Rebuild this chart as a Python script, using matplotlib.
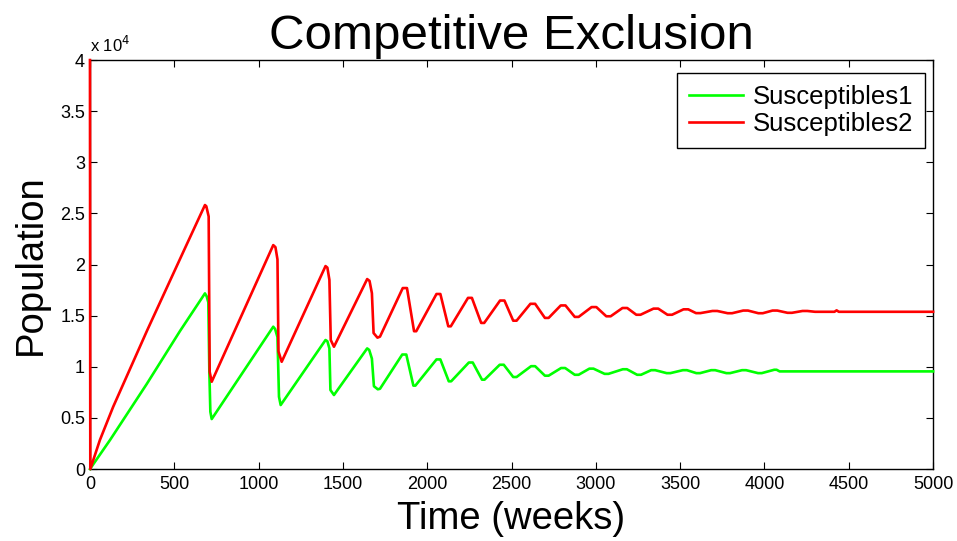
import numpy as np
import matplotlib.pyplot as plt
from matplotlib.ticker import FuncFormatter

plt.rcParams['font.family'] = ['Liberation Sans', 'DejaVu Sans']

# Susceptibles2 (red): points (weeks, population)
t2 = [0, 2, 59, 138, 340, 563, 682, 690, 704, 710, 722,
      1087, 1100, 1112, 1118, 1137,
      1397, 1408, 1420, 1428, 1447,
      1644, 1658, 1672, 1682, 1705, 1720,
      1855, 1880, 1922, 1935, 2055, 2078, 2125, 2140,
      2242, 2265, 2320, 2338, 2432, 2458, 2510, 2530,
      2612, 2640, 2698, 2720, 2792, 2820, 2875, 2898,
      2975, 3003, 3062, 3088, 3158, 3186, 3240, 3265,
      3342, 3370, 3425, 3452, 3520, 3548, 3594, 3620,
      3692, 3720, 3782, 3808, 3874, 3902, 3964, 3990,
      4048, 4076, 4137, 4163, 4226, 4254, 4300, 4415, 4428, 4441, 4460, 5000]
s2 = [40000, 0, 2840, 6100, 13590, 21580, 25820, 25700, 24700, 9500, 8540,
      21900, 21700, 20500, 11500, 10490,
      19850, 19700, 18500, 12620, 11960,
      18580, 18400, 17200, 13300, 12850, 12950,
      17700, 17700, 13480, 13480, 17120, 17120, 13960, 13960,
      16740, 16740, 14290, 14290, 16480, 16480, 14510, 14510,
      16160, 16160, 14780, 14780, 16000, 16000, 14880, 14880,
      15840, 15840, 14940, 14940, 15750, 15750, 15090, 15090,
      15690, 15690, 15090, 15090, 15620, 15620, 15250, 15250,
      15460, 15460, 15240, 15240, 15500, 15500, 15240, 15240,
      15500, 15500, 15280, 15280, 15460, 15460, 15380, 15380, 15520, 15380, 15380, 15380]

# Susceptibles1 (green)
t1 = [0, 119, 336, 534, 682, 692, 702, 708, 714, 722,
      1087, 1098, 1112, 1121, 1131,
      1397, 1408, 1420, 1426, 1447,
      1644, 1656, 1672, 1684, 1707, 1720,
      1852, 1876, 1918, 1930, 2055, 2078, 2128, 2142,
      2247, 2270, 2325, 2340, 2430, 2454, 2510, 2530,
      2616, 2640, 2698, 2720, 2794, 2818, 2875, 2898,
      2962, 2986, 3052, 3075, 3160, 3184, 3245, 3268,
      3328, 3352, 3420, 3442, 3516, 3540, 3596, 3618,
      3684, 3708, 3774, 3796, 3867, 3891, 3962, 3984,
      4058, 4072, 4090, 5000]
s1 = [0, 2840, 8300, 13500, 17180, 16900, 16300, 9500, 5600, 4890,
      13920, 13700, 12900, 7070, 6260,
      12620, 12500, 11800, 7730, 7240,
      11800, 11650, 10800, 8100, 7800, 7850,
      11200, 11200, 8160, 8160, 10720, 10720, 8580, 8580,
      10420, 10420, 8740, 8740, 10200, 10200, 9000, 9000,
      10060, 10060, 9130, 9130, 9880, 9880, 9220, 9220,
      9820, 9820, 9310, 9310, 9760, 9760, 9220, 9220,
      9670, 9670, 9380, 9380, 9670, 9670, 9380, 9380,
      9670, 9670, 9380, 9380, 9670, 9670, 9380, 9380,
      9710, 9710, 9550, 9550]

fig = plt.figure(figsize=(9.57, 5.41), dpi=100)
ax = fig.add_axes([0.094, 0.133, 0.881, 0.756])

ax.plot(t1, s1, color=(0, 1, 0), lw=1.9, label='Susceptibles1', clip_on=False, zorder=3)
ax.plot(t2, s2, color=(1, 0, 0), lw=1.9, label='Susceptibles2', clip_on=False, zorder=3)

ax.set_xlim(0, 5000)
ax.set_ylim(0, 40000)
ax.set_xticks(np.arange(0, 5001, 500))
ax.set_yticks(np.arange(0, 40001, 5000))
ax.yaxis.set_major_formatter(FuncFormatter(lambda v, p: f'{v/1e4:g}'))
ax.tick_params(direction='in', top=True, right=True, length=5, labelsize=13)
ax.tick_params(axis='x', pad=5)
for sp in ax.spines.values():
    sp.set_linewidth(1.0)

ax.text(0, 1.012, r'x 10$^{4}$', transform=ax.transAxes, fontsize=12, ha='left', va='bottom')

ax.set_title('Competitive Exclusion', fontsize=35.5, pad=8)
ax.set_xlabel('Time (weeks)', fontsize=27.5, labelpad=6)
ax.set_ylabel('Population', fontsize=27.5, labelpad=8)

leg = ax.legend(loc='upper right', bbox_to_anchor=(925 / 957, 1 - 73 / 541),
                bbox_transform=fig.transFigure, borderaxespad=0,
                fontsize=18.5, frameon=True, fancybox=False,
                handlelength=2.1, handletextpad=0.4, borderpad=0.45, labelspacing=0.15)
leg.get_frame().set_edgecolor('black')
leg.get_frame().set_linewidth(1.0)
leg.get_frame().set_alpha(1)

fig.savefig('out.png', dpi=100)
